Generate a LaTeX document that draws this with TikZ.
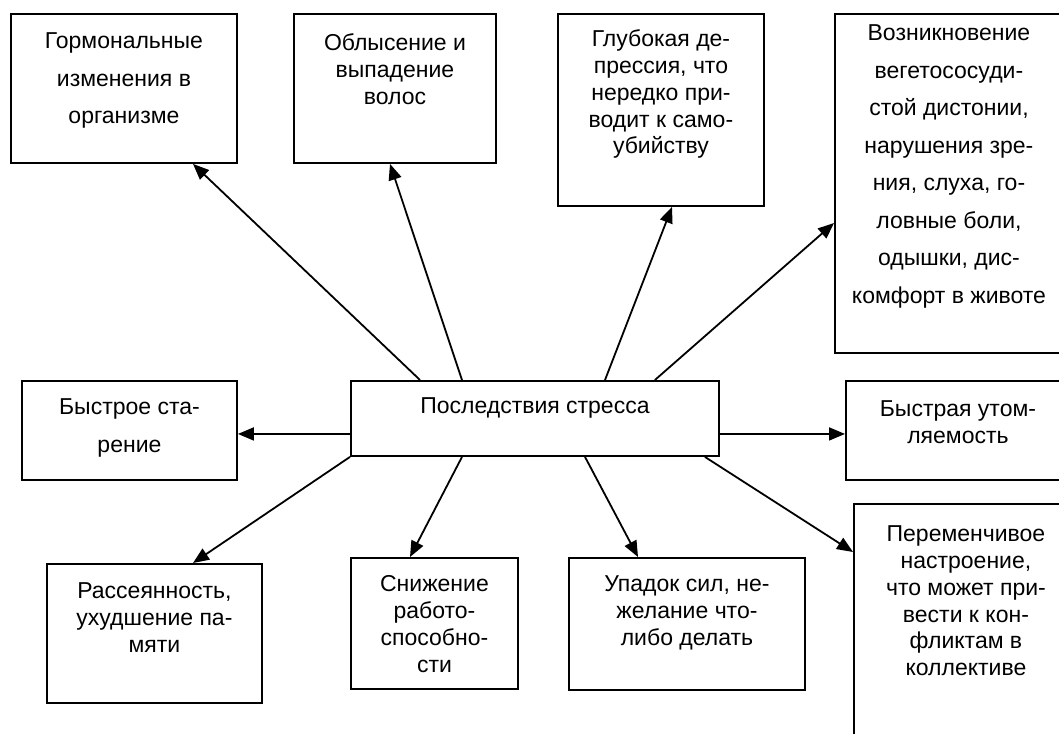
\documentclass[tikz,border=0pt]{standalone}
\usepackage{fontspec}
\setmainfont{Liberation Sans}
\usetikzlibrary{arrows.meta}

\begin{document}
\begin{tikzpicture}[x=1pt, y=-1pt, ->, >={Triangle[length=16pt, width=13pt]}, line width=1.8pt,
    every node/.style={inner sep=0pt},
    box/.style={draw, line width=1.9pt, anchor=north west},
    txt/.style={anchor=north, align=center, font=\fontsize{23}{26.8}\selectfont},
    wide/.style={font=\fontsize{23}{37.5}\selectfont}]
    \clip (0,0) rectangle (1059,733);

    \node[box, minimum width=368pt, minimum height=75pt, label={[txt, yshift=-17pt]north:Последствия стресса}] (stress) at (350,380) {};

    \node[box, minimum width=226pt, minimum height=149pt, label={[txt, wide, yshift=-19pt]north:{Гормональные\\изменения в\\организме}}] (horm) at (10,13) {};
    \node[box, minimum width=202pt, minimum height=149pt, label={[txt, yshift=-20pt]north:{Облысение и\\выпадение\\волос}}] (hair) at (293,13) {};
    \node[box, minimum width=206pt, minimum height=192pt, label={[txt, yshift=-16pt]north:{Глубокая де-\\прессия, что\\нередко при-\\водит к само-\\убийству}}] (depr) at (557,13) {};
    \node[box, minimum width=228pt, minimum height=339pt, label={[txt, wide, yshift=-11pt]north:{Возникновение\\вегетососуди-\\стой дистонии,\\нарушения зре-\\ния, слуха, го-\\ловные боли,\\одышки, дис-\\комфорт в животе}}] (veg) at (834,13) {};

    \node[box, minimum width=215pt, minimum height=99pt, label={[txt, wide, yshift=-18pt]north:{Быстрое ста-\\рение}}] (aging) at (21,380) {};
    \node[box, minimum width=224pt, minimum height=99pt, label={[txt, yshift=-20pt]north:{Быстрая утом-\\ляемость}}] (fatigue) at (845,380) {};

    \node[box, minimum width=215pt, minimum height=139pt, label={[txt, yshift=-19pt]north:{Рассеянность,\\ухудшение па-\\мяти}}] (memory) at (46,563) {};
    \node[box, minimum width=167pt, minimum height=131pt, label={[txt, yshift=-18pt]north:{Снижение\\работо-\\способно-\\сти}}] (work) at (350,557) {};
    \node[box, minimum width=236pt, minimum height=132pt, label={[txt, yshift=-18pt]north:{Упадок сил, не-\\желание что-\\либо делать}}] (tired) at (568,557) {};
    \node[box, minimum width=224pt, minimum height=300pt, label={[txt, yshift=-22pt]north:{Переменчивое\\настроение,\\что может при-\\вести к кон-\\фликтам в\\коллективе}}] (mood) at (853,503) {};

    % arrows out of the centre box
    \path ([xshift=70pt]stress.north west) edge ([xshift=183pt]horm.south west)
          ([xshift=112pt]stress.north west) edge ([xshift=97pt]hair.south west)
          ([xshift=255pt]stress.north west) edge ([xshift=115pt]depr.south west)
          ([xshift=-65pt]stress.north east) edge ([yshift=-210pt]veg.north west)
          ([yshift=-15.5pt]stress.west) edge ([yshift=-3.5pt]aging.east)
          ([yshift=-15.5pt]stress.east) edge ([yshift=-3.5pt]fatigue.west)
          (stress.south west) edge ([xshift=147pt]memory.north west)
          ([xshift=112pt]stress.south west) edge ([xshift=60pt]work.north west)
          ([xshift=235pt]stress.south west) edge ([xshift=70pt]tired.north west)
          ([xshift=-15pt]stress.south east) edge ([yshift=-49pt]mood.north west);
\end{tikzpicture}
\end{document}
